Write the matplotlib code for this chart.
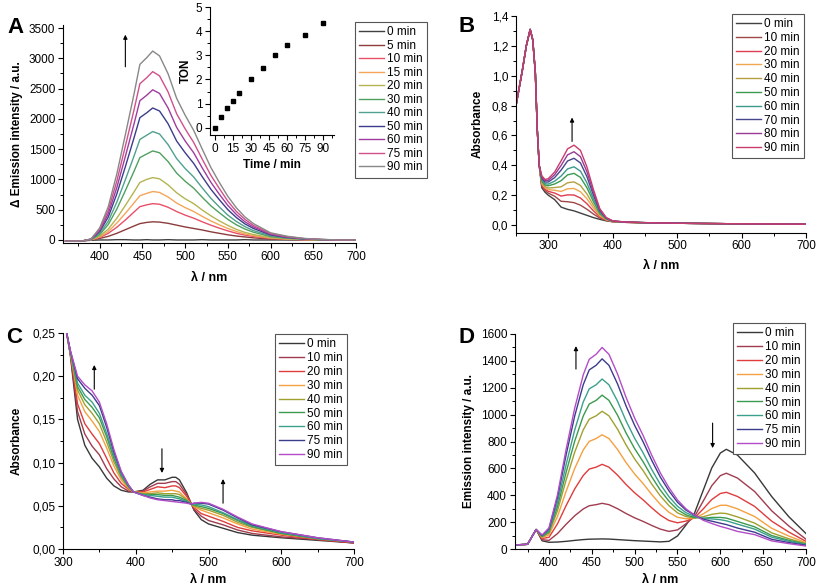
import matplotlib
matplotlib.use("Agg")
import matplotlib.pyplot as plt
from matplotlib.ticker import MultipleLocator, FuncFormatter

plt.rcParams["font.family"] = ["Liberation Sans", "DejaVu Sans"]
plt.rcParams["font.size"] = 8

# ---------------- panel A : delta emission ----------------
a_wl = [360, 380, 390, 400, 410, 420, 430, 440, 447, 455, 462, 470, 480, 490, 500,
        510, 520, 530, 540, 550, 560, 570, 580, 600, 620, 640, 660, 680, 700]
a_0min = [-20, -15, -5, 0, 0, 5, 5, 0, 0, 5, 0, 0, 5, 0, 0, 0, 5, 0, 0, 0, 0, 5, 0, 0, 0, 0, 0, 0, 0]
a_5min = [-20, -15, 5, 25, 60, 110, 170, 230, 270, 290, 300, 295, 275, 245, 215, 190, 165, 135, 110, 85, 65, 50, 35, 15, 8, 3, 0, 0, 0]
a_10min = [-20, -15, 5, 40, 110, 210, 330, 460, 550, 580, 600, 590, 540, 470, 410, 360, 300, 245, 195, 150, 110, 80, 57, 25, 12, 5, 0, 0, 0]
a_15min = [-20, -15, 5, 50, 140, 280, 440, 610, 730, 770, 800, 785, 710, 610, 535, 470, 390, 315, 250, 190, 140, 100, 72, 32, 15, 6, 2, 0, 0]
a_20min = [-20, -15, 5, 65, 180, 360, 570, 790, 950, 1000, 1030, 1010, 910, 780, 680, 600, 495, 400, 315, 240, 175, 125, 90, 40, 20, 8, 3, 0, 0]
a_30min = [-20, -15, 8, 90, 255, 510, 815, 1130, 1360, 1420, 1470, 1440, 1295, 1105, 970, 855, 705, 565, 450, 340, 250, 180, 128, 56, 28, 12, 4, 0, 0]
a_40min = [-20, -15, 10, 110, 310, 625, 995, 1380, 1660, 1730, 1790, 1750, 1575, 1345, 1180, 1040, 860, 690, 545, 410, 305, 220, 155, 68, 34, 14, 5, 0, 0]
a_50min = [-20, -15, 12, 140, 380, 760, 1210, 1680, 2020, 2100, 2180, 2130, 1920, 1635, 1440, 1265, 1045, 840, 665, 500, 370, 265, 190, 83, 41, 17, 6, 0, 0]
a_60min = [-20, -15, 14, 160, 435, 865, 1380, 1910, 2300, 2390, 2480, 2420, 2180, 1860, 1635, 1440, 1190, 955, 755, 570, 420, 300, 215, 94, 47, 20, 7, 0, 0]
a_75min = [-20, -15, 16, 180, 490, 970, 1550, 2140, 2580, 2680, 2780, 2710, 2445, 2085, 1835, 1610, 1335, 1070, 850, 640, 470, 340, 240, 105, 53, 22, 8, 0, 0]
a_90min = [-20, -15, 18, 200, 550, 1090, 1740, 2400, 2900, 3010, 3120, 3040, 2745, 2340, 2060, 1810, 1500, 1200, 950, 720, 530, 380, 270, 118, 60, 25, 9, 0, 0]
a_labels = ["0 min", "5 min", "10 min", "15 min", "20 min", "30 min", "40 min",
            "50 min", "60 min", "75 min", "90 min"]
a_colors = ["#404040", "#8c3c3c", "#e8506a", "#f5a55a", "#b4b450", "#50a060",
            "#50a090", "#3c3c8c", "#a03ca0", "#d0508c", "#888888"]

# inset : turnover number
ton_time = [0, 5, 10, 15, 20, 30, 40, 50, 60, 75, 90]
ton_value = [0.0, 0.43, 0.83, 1.1, 1.43, 2.02, 2.48, 3.03, 3.42, 3.86, 4.35]

# ---------------- panel B : absorbance ----------------
b_wl = [250, 260, 266, 272, 276, 280, 283, 286, 290, 295, 300, 310, 320, 330, 340,
        350, 360, 370, 380, 390, 400, 420, 450, 500, 600, 700]
b_0min = [0.80, 1.04, 1.20, 1.31, 1.24, 1.02, 0.64, 0.40, 0.25, 0.22, 0.2, 0.17, 0.12, 0.105, 0.095, 0.08, 0.065, 0.05, 0.038, 0.028, 0.022, 0.018, 0.015, 0.012, 0.008, 0.006]
b_10min = [0.80, 1.04, 1.20, 1.31, 1.24, 1.02, 0.64, 0.40, 0.26, 0.231, 0.214, 0.193, 0.159, 0.156, 0.15, 0.133, 0.106, 0.074, 0.047, 0.031, 0.023, 0.018, 0.015, 0.012, 0.008, 0.006]
b_20min = [0.80, 1.04, 1.20, 1.31, 1.24, 1.02, 0.64, 0.40, 0.269, 0.24, 0.226, 0.214, 0.194, 0.202, 0.201, 0.181, 0.143, 0.096, 0.055, 0.033, 0.023, 0.018, 0.015, 0.012, 0.008, 0.006]
b_30min = [0.80, 1.04, 1.20, 1.31, 1.24, 1.02, 0.64, 0.40, 0.277, 0.249, 0.237, 0.233, 0.225, 0.243, 0.245, 0.223, 0.176, 0.115, 0.062, 0.035, 0.024, 0.019, 0.015, 0.012, 0.008, 0.006]
b_40min = [0.80, 1.04, 1.20, 1.31, 1.24, 1.02, 0.64, 0.40, 0.285, 0.257, 0.248, 0.251, 0.256, 0.283, 0.289, 0.265, 0.208, 0.134, 0.070, 0.038, 0.025, 0.019, 0.015, 0.012, 0.008, 0.006]
b_50min = [0.80, 1.04, 1.20, 1.31, 1.24, 1.02, 0.64, 0.40, 0.296, 0.268, 0.263, 0.275, 0.297, 0.336, 0.346, 0.319, 0.25, 0.158, 0.079, 0.041, 0.025, 0.019, 0.016, 0.012, 0.008, 0.006]
b_60min = [0.80, 1.04, 1.20, 1.31, 1.24, 1.02, 0.64, 0.40, 0.304, 0.277, 0.274, 0.294, 0.328, 0.376, 0.39, 0.361, 0.283, 0.177, 0.086, 0.043, 0.026, 0.019, 0.016, 0.012, 0.008, 0.006]
b_70min = [0.80, 1.04, 1.20, 1.31, 1.24, 1.02, 0.64, 0.40, 0.314, 0.288, 0.288, 0.318, 0.368, 0.429, 0.447, 0.416, 0.325, 0.202, 0.096, 0.046, 0.027, 0.02, 0.016, 0.012, 0.008, 0.006]
b_80min = [0.80, 1.04, 1.20, 1.31, 1.24, 1.02, 0.64, 0.40, 0.322, 0.297, 0.299, 0.337, 0.399, 0.47, 0.491, 0.458, 0.358, 0.221, 0.103, 0.048, 0.027, 0.02, 0.016, 0.012, 0.008, 0.006]
b_90min = [0.80, 1.04, 1.20, 1.31, 1.24, 1.02, 0.64, 0.40, 0.33, 0.305, 0.31, 0.355, 0.43, 0.51, 0.535, 0.5, 0.39, 0.24, 0.11, 0.05, 0.028, 0.02, 0.016, 0.012, 0.008, 0.006]
b_labels = ["0 min", "10 min", "20 min", "30 min", "40 min", "50 min", "60 min",
            "70 min", "80 min", "90 min"]
b_colors = ["#404040", "#a04848", "#e03c50", "#f0a850", "#b4a040", "#3c9a50",
            "#3c9a8c", "#46468c", "#963c96", "#c83c6e"]

# ---------------- panel C : absorbance ----------------
c_wl = [305, 310, 320, 330, 340, 350, 360, 370, 380, 390, 397, 410, 420, 430, 440,
        450, 455, 460, 470, 476, 480, 490, 500, 520, 540, 560, 600, 650, 700]
c_0min = [0.25, 0.225, 0.15, 0.12, 0.105, 0.095, 0.082, 0.073, 0.068, 0.066, 0.066, 0.068, 0.075, 0.08, 0.08, 0.083, 0.083, 0.08, 0.065, 0.053, 0.045, 0.034, 0.029, 0.024, 0.019, 0.016, 0.013, 0.010, 0.007]
c_10min = [0.25, 0.226, 0.159, 0.133, 0.119, 0.109, 0.093, 0.081, 0.072, 0.067, 0.066, 0.067, 0.072, 0.076, 0.076, 0.078, 0.078, 0.075, 0.063, 0.053, 0.046, 0.038, 0.033, 0.028, 0.022, 0.018, 0.014, 0.011, 0.007]
c_20min = [0.25, 0.227, 0.168, 0.145, 0.133, 0.122, 0.105, 0.088, 0.076, 0.069, 0.066, 0.066, 0.069, 0.072, 0.071, 0.073, 0.073, 0.071, 0.061, 0.053, 0.048, 0.041, 0.038, 0.032, 0.025, 0.021, 0.016, 0.011, 0.007]
c_30min = [0.25, 0.228, 0.178, 0.159, 0.148, 0.136, 0.117, 0.096, 0.080, 0.070, 0.066, 0.065, 0.066, 0.067, 0.067, 0.068, 0.067, 0.066, 0.058, 0.052, 0.049, 0.045, 0.042, 0.036, 0.029, 0.023, 0.017, 0.012, 0.008]
c_40min = [0.25, 0.228, 0.184, 0.167, 0.157, 0.145, 0.124, 0.101, 0.083, 0.071, 0.066, 0.064, 0.064, 0.065, 0.064, 0.064, 0.064, 0.063, 0.057, 0.052, 0.050, 0.047, 0.045, 0.039, 0.031, 0.025, 0.018, 0.012, 0.008]
c_50min = [0.25, 0.229, 0.188, 0.173, 0.164, 0.152, 0.130, 0.105, 0.085, 0.072, 0.066, 0.063, 0.063, 0.063, 0.062, 0.062, 0.061, 0.060, 0.056, 0.052, 0.051, 0.049, 0.047, 0.041, 0.033, 0.026, 0.018, 0.012, 0.008]
c_60min = [0.25, 0.229, 0.192, 0.178, 0.170, 0.157, 0.134, 0.108, 0.086, 0.073, 0.066, 0.063, 0.062, 0.061, 0.060, 0.060, 0.059, 0.058, 0.055, 0.052, 0.052, 0.051, 0.049, 0.042, 0.034, 0.027, 0.019, 0.012, 0.008]
c_75min = [0.25, 0.230, 0.197, 0.186, 0.178, 0.166, 0.141, 0.112, 0.089, 0.074, 0.066, 0.062, 0.060, 0.058, 0.057, 0.057, 0.056, 0.056, 0.054, 0.052, 0.053, 0.053, 0.052, 0.045, 0.036, 0.028, 0.020, 0.013, 0.008]
c_90min = [0.25, 0.23, 0.20, 0.19, 0.183, 0.17, 0.145, 0.115, 0.09, 0.074, 0.066, 0.062, 0.059, 0.057, 0.056, 0.055, 0.0545, 0.054, 0.053, 0.052, 0.053, 0.054, 0.053, 0.046, 0.037, 0.029, 0.020, 0.013, 0.008]
cd_labels = ["0 min", "10 min", "20 min", "30 min", "40 min", "50 min", "60 min",
             "75 min", "90 min"]
cd_colors = ["#383838", "#a03c50", "#e03c3c", "#f5a040", "#a0a030", "#3c9a50",
             "#3ca08c", "#3c3c8c", "#b44cc8"]

# ---------------- panel D : emission ----------------
d_wl = [360, 375, 385, 392, 400, 410, 420, 430, 440, 447, 455, 462, 470, 480, 490, 500,
        510, 520, 530, 540, 550, 560, 570, 580, 590, 600, 607, 620, 640, 660, 680, 700]
d_0min = [30, 35, 145, 61, 50, 52, 57, 64, 70, 73, 74, 75, 74, 70, 66, 62, 59, 56, 53, 57, 97, 179, 269, 436, 603, 714, 742, 699, 566, 390, 240, 115]
d_10min = [30, 35, 145, 69, 64, 115, 184, 247, 298, 322, 330, 340, 330, 300, 264, 232, 205, 175, 148, 131, 142, 188, 243, 356, 471, 546, 564, 528, 428, 284, 171, 73]
d_20min = [30, 35, 145, 78, 87, 188, 323, 447, 547, 595, 609, 630, 609, 550, 480, 418, 365, 306, 252, 212, 195, 208, 233, 298, 368, 413, 422, 391, 317, 207, 126, 57]
d_30min = [30, 35, 145, 84, 105, 243, 429, 599, 737, 801, 822, 850, 822, 741, 643, 558, 486, 405, 332, 273, 236, 225, 229, 261, 301, 325, 326, 299, 242, 154, 96, 47]
d_40min = [30, 35, 145, 90, 119, 286, 513, 720, 887, 966, 991, 1025, 991, 892, 774, 670, 582, 483, 395, 323, 269, 241, 231, 240, 258, 267, 264, 239, 193, 120, 76, 40]
d_50min = [30, 35, 145, 93, 128, 316, 570, 802, 990, 1079, 1106, 1145, 1106, 996, 863, 747, 648, 537, 438, 356, 293, 254, 234, 229, 235, 235, 230, 205, 165, 100, 65, 36]
d_60min = [30, 35, 145, 97, 138, 346, 628, 885, 1094, 1192, 1222, 1265, 1222, 1100, 953, 824, 714, 591, 481, 390, 318, 270, 242, 227, 224, 218, 210, 185, 148, 88, 58, 33]
d_75min = [30, 35, 145, 101, 150, 384, 700, 989, 1223, 1333, 1367, 1415, 1367, 1229, 1064, 920, 796, 659, 535, 433, 348, 289, 251, 222, 207, 192, 182, 156, 125, 72, 48, 28]
d_90min = [30, 35, 145, 104, 157, 405, 741, 1047, 1296, 1412, 1449, 1500, 1449, 1303, 1128, 974, 843, 697, 566, 457, 365, 298, 253, 214, 190, 168, 156, 131, 107, 60, 40, 22]


def style_axes(ax):
    for side in ["top", "right"]:
        ax.spines[side].set_visible(False)
    for side in ["left", "bottom"]:
        ax.spines[side].set_linewidth(0.8)
    ax.tick_params(which="major", direction="out", length=3.5, width=0.8, labelsize=8.5, pad=2)
    ax.tick_params(which="minor", direction="out", length=2, width=0.7)


def add_legend(ax, x0, y0, spacing):
    leg = ax.legend(loc="upper left", bbox_to_anchor=(x0 / 817, 1 - y0 / 588),
                    bbox_transform=fig.transFigure, fontsize=8.5, handlelength=2.1,
                    handletextpad=0.3, labelspacing=spacing, borderpad=0.35,
                    fancybox=False, framealpha=1, borderaxespad=0)
    leg.get_frame().set_edgecolor("#555555")
    leg.get_frame().set_linewidth(0.8)


def arrow(ax, x, y0, y1):
    ax.annotate("", xy=(x, y1), xytext=(x, y0),
                arrowprops=dict(arrowstyle="-|>", lw=0.8, color="black", mutation_scale=6,
                                shrinkA=0, shrinkB=0))


fig = plt.figure(figsize=(8.17, 5.88), dpi=100)

# panel A
ax_a = fig.add_axes([63 / 817, 1 - 243 / 588, 293 / 817, 218 / 588])
a_curves = [a_0min, a_5min, a_10min, a_15min, a_20min, a_30min, a_40min,
            a_50min, a_60min, a_75min, a_90min]
for vals, lab, col in zip(a_curves, a_labels, a_colors):
    ax_a.plot(a_wl, vals, color=col, lw=1, label=lab)
ax_a.set_xlim(357, 700)
ax_a.set_ylim(-50, 3550)
ax_a.xaxis.set_major_locator(MultipleLocator(50))
ax_a.xaxis.set_minor_locator(MultipleLocator(25))
ax_a.yaxis.set_major_locator(MultipleLocator(500))
ax_a.yaxis.set_minor_locator(MultipleLocator(250))
style_axes(ax_a)
ax_a.set_xlabel("λ / nm", fontweight="bold", fontsize=9, labelpad=7)
ax_a.set_ylabel("Δ Emission intensity / a.u.", fontweight="bold", fontsize=8.5, labelpad=4)
add_legend(ax_a, 355, 22, 0.13)
arrow(ax_a, 430, 2860, 3390)
fig.text(7 / 817, 1 - 33 / 588, "A", fontsize=16, fontweight="bold")

# inset
ax_in = fig.add_axes([210 / 817, 1 - 135 / 588, 124 / 817, 128 / 588])
ax_in.plot(ton_time, ton_value, "s", color="black", ms=3.5)
ax_in.set_xlim(-4, 99)
ax_in.set_ylim(-0.3, 5)
ax_in.set_xticks([0, 15, 30, 45, 60, 75, 90])
ax_in.xaxis.set_minor_locator(MultipleLocator(7.5))
ax_in.yaxis.set_major_locator(MultipleLocator(1))
ax_in.yaxis.set_minor_locator(MultipleLocator(0.5))
style_axes(ax_in)
ax_in.set_xlabel("Time / min", fontweight="bold", fontsize=8.5, labelpad=3)
ax_in.set_ylabel("TON", fontweight="bold", fontsize=8.5, labelpad=3)
ax_in.patch.set_alpha(0)

# panel B
ax_b = fig.add_axes([516 / 817, 1 - 232.5 / 588, 290 / 817, 216.5 / 588])
b_curves = [b_0min, b_10min, b_20min, b_30min, b_40min, b_50min, b_60min,
            b_70min, b_80min, b_90min]
for vals, lab, col in zip(b_curves, b_labels, b_colors):
    ax_b.plot(b_wl, vals, color=col, lw=1, label=lab)
ax_b.set_xlim(250, 700)
ax_b.set_ylim(-0.05, 1.4)
ax_b.xaxis.set_major_locator(MultipleLocator(100))
ax_b.xaxis.set_minor_locator(MultipleLocator(50))
ax_b.yaxis.set_major_locator(MultipleLocator(0.2))
ax_b.yaxis.set_minor_locator(MultipleLocator(0.1))
ax_b.yaxis.set_major_formatter(FuncFormatter(lambda v, p: ("%.1f" % v).replace(".", ",")))
style_axes(ax_b)
ax_b.set_xlabel("λ / nm", fontweight="bold", fontsize=9, labelpad=6)
ax_b.set_ylabel("Absorbance", fontweight="bold", fontsize=8.5, labelpad=6)
add_legend(ax_b, 732, 14, 0.15)
arrow(ax_b, 337, 0.56, 0.72)
fig.text(458 / 817, 1 - 32 / 588, "B", fontsize=16, fontweight="bold")

# panel C
ax_c = fig.add_axes([63 / 817, 1 - 549 / 588, 291 / 817, 216 / 588])
c_curves = [c_0min, c_10min, c_20min, c_30min, c_40min, c_50min, c_60min,
            c_75min, c_90min]
for vals, lab, col in zip(c_curves, cd_labels, cd_colors):
    ax_c.plot(c_wl, vals, color=col, lw=1, label=lab)
ax_c.set_xlim(300, 700)
ax_c.set_ylim(0, 0.25)
ax_c.xaxis.set_major_locator(MultipleLocator(100))
ax_c.xaxis.set_minor_locator(MultipleLocator(50))
ax_c.yaxis.set_major_locator(MultipleLocator(0.05))
ax_c.yaxis.set_minor_locator(MultipleLocator(0.025))
ax_c.yaxis.set_major_formatter(FuncFormatter(lambda v, p: ("%.2f" % v).replace(".", ",")))
style_axes(ax_c)
ax_c.set_xlabel("λ / nm", fontweight="bold", fontsize=9, labelpad=4)
ax_c.set_ylabel("Absorbance", fontweight="bold", fontsize=8.5, labelpad=7)
add_legend(ax_c, 275, 334, 0.16)
arrow(ax_c, 343, 0.185, 0.213)
arrow(ax_c, 436, 0.116, 0.088)
arrow(ax_c, 520, 0.053, 0.081)
fig.text(6 / 817, 1 - 343 / 588, "C", fontsize=16, fontweight="bold")

# panel D
ax_d = fig.add_axes([514.7 / 817, 1 - 549 / 588, 291.3 / 817, 215 / 588])
d_curves = [d_0min, d_10min, d_20min, d_30min, d_40min, d_50min, d_60min,
            d_75min, d_90min]
for vals, lab, col in zip(d_curves, cd_labels, cd_colors):
    ax_d.plot(d_wl, vals, color=col, lw=1, label=lab)
ax_d.set_xlim(360, 700)
ax_d.set_ylim(0, 1600)
ax_d.xaxis.set_major_locator(MultipleLocator(50))
ax_d.xaxis.set_minor_locator(MultipleLocator(25))
ax_d.yaxis.set_major_locator(MultipleLocator(200))
ax_d.yaxis.set_minor_locator(MultipleLocator(100))
style_axes(ax_d)
ax_d.set_xlabel("λ / nm", fontweight="bold", fontsize=9, labelpad=4)
ax_d.set_ylabel("Emission intensity / a.u.", fontweight="bold", fontsize=8.5, labelpad=4)
add_legend(ax_d, 733, 323, 0.16)
arrow(ax_d, 431.5, 1339, 1510)
arrow(ax_d, 591, 937, 751)
fig.text(458 / 817, 1 - 343 / 588, "D", fontsize=16, fontweight="bold")

fig.savefig("out.png", dpi=100)
